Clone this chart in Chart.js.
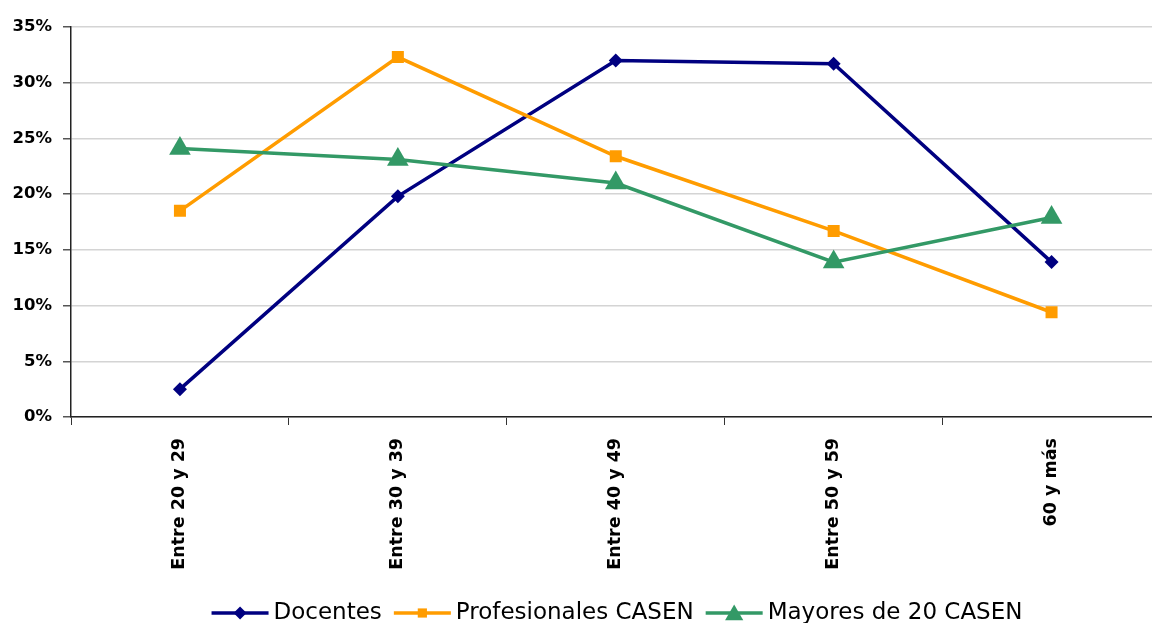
<!DOCTYPE html>
<html>
<head>
<meta charset="utf-8">
<script src="https://cdn.jsdelivr.net/npm/chart.js@4.4.0/dist/chart.umd.min.js"></script>
<style>
  html, body { margin: 0; padding: 0; background: #fff; overflow: hidden; }
  #wrap { width: 1152px; height: 623px; overflow: hidden; position: relative; }
  #myChart { position: absolute; left: 0; top: 0; }
</style>
</head>
<body>
<div id="wrap"><canvas id="myChart" width="1173" height="623"></canvas></div>
<script>
// categories and series (values in %)
const categories = ['Entre 20 y 29', 'Entre 30 y 39', 'Entre 40 y 49', 'Entre 50 y 59', '60 y más'];
const docentes = [2.5, 19.8, 32.0, 31.7, 13.9];
const profesionales = [18.5, 32.3, 23.4, 16.7, 9.4];
const mayores = [24.1, 23.1, 21.0, 13.9, 17.9];
const yTicks = [0, 5, 10, 15, 20, 25, 30, 35];

const seriesNames = ['Docentes', 'Profesionales CASEN', 'Mayores de 20 CASEN'];
const seriesColors = ['#000080', '#FF9C00', '#339966'];
const seriesStyles = ['rectRot', 'rect', 'triangle'];
const seriesRadius = [7, 8.5, 12.5];
const legendRadius = [6.5, 6.5, 10.5];

const yFont = { family: "'DejaVu Sans', sans-serif", size: 16.5, weight: 'bold' };
const xFont = { family: "'DejaVu Sans', sans-serif", size: 17.5, weight: 'bold' };

// marker shape for the hand drawn legend
function drawMarker(ctx, style, r, x, y) {
    ctx.beginPath();
    if (style === 'rectRot') {
        ctx.moveTo(x - r, y); ctx.lineTo(x, y - r); ctx.lineTo(x + r, y); ctx.lineTo(x, y + r);
    } else if (style === 'rect') {
        const s = Math.SQRT1_2 * r;
        ctx.rect(x - s, y - s, 2 * s, 2 * s);
    } else {
        for (let i = 0; i < 3; i++) {
            const a = -Math.PI / 2 + i * 2 * Math.PI / 3;
            const px = x + Math.cos(a) * r, py = y + Math.sin(a) * r;
            if (i === 0) ctx.moveTo(px, py); else ctx.lineTo(px, py);
        }
    }
    ctx.closePath();
    ctx.fill();
}

const bottomLegend = {
    id: 'bottomLegend',
    afterDraw(chart) {
        const ctx = chart.ctx;
        ctx.save();
        ctx.font = "23px 'DejaVu Sans', sans-serif";
        ctx.textBaseline = 'middle';
        const sample = 57, gapText = 5, gapItem = 12;
        const widths = seriesNames.map(n => ctx.measureText(n).width);
        let total = 0;
        widths.forEach((w, i) => { total += sample + gapText + w + (i < widths.length - 1 ? gapItem : 0); });
        let x = 617 - total / 2;
        const y = 613;
        seriesNames.forEach((name, i) => {
            ctx.strokeStyle = seriesColors[i];
            ctx.fillStyle = seriesColors[i];
            ctx.lineWidth = 3.5;
            ctx.beginPath();
            ctx.moveTo(x, y); ctx.lineTo(x + sample, y);
            ctx.stroke();
            drawMarker(ctx, seriesStyles[i], legendRadius[i], x + sample / 2, y + (seriesStyles[i] === 'triangle' ? 2 : 0));
            ctx.fillStyle = '#000';
            ctx.fillText(name, x + sample + gapText, y);
            x += sample + gapText + widths[i] + gapItem;
        });
        ctx.restore();
    }
};

const data = {
    labels: categories,
    datasets: [docentes, profesionales, mayores].map((vals, i) => ({
        label: seriesNames[i],
        data: vals,
        borderColor: seriesColors[i],
        backgroundColor: seriesColors[i],
        borderWidth: 3.5,
        pointStyle: seriesStyles[i],
        pointRadius: seriesRadius[i],
        pointBorderWidth: 0,
        pointHoverRadius: seriesRadius[i],
        tension: 0,
        order: 3 - i
    }))
};

const config = {
    type: 'line',
    data,
    plugins: [bottomLegend],
    options: {
        responsive: false,
        animation: false,
        layout: { padding: { top: 27, right: 0, left: 0, bottom: 0 } },
        plugins: {
            legend: { display: false },
            tooltip: { enabled: false }
        },
        scales: {
            x: {
                offset: true,
                afterFit(scale) { scale.height = 206; },
                grid: {
                    offset: true,
                    drawOnChartArea: false,
                    drawTicks: true,
                    tickLength: 8,
                    tickColor: '#333'
                },
                border: { color: '#222', width: 1.5 },
                ticks: {
                    autoSkip: false,
                    minRotation: 90,
                    maxRotation: 90,
                    padding: 13,
                    color: '#000',
                    font: xFont
                }
            },
            y: {
                min: 0,
                max: 35,
                afterFit(scale) { scale.width = 71; },
                afterBuildTicks(scale) { scale.ticks = yTicks.map(v => ({ value: v })); },
                grid: {
                    color: '#d4d4d4',
                    lineWidth: 1.5,
                    drawTicks: true,
                    tickLength: 8,
                    tickColor: '#555'
                },
                border: { color: '#222', width: 1.5 },
                ticks: {
                    padding: 11,
                    color: '#000',
                    font: yFont,
                    callback: v => v + '%'
                }
            }
        }
    }
};

const myChart = new Chart(document.getElementById('myChart'), config);
</script>
</body>
</html>
